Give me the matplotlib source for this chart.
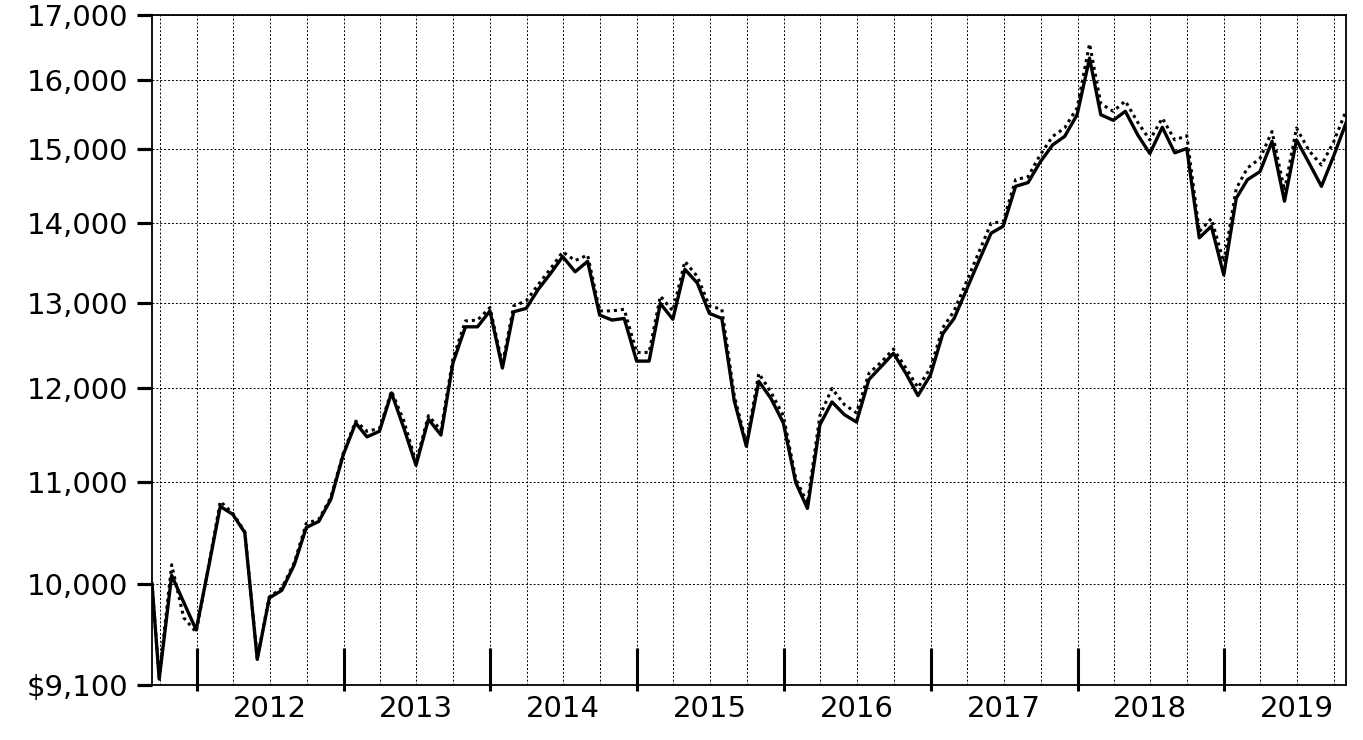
import datetime as dt
import numpy as np
import pandas as pd
import matplotlib
matplotlib.use("Agg")
import matplotlib.pyplot as plt
import matplotlib.dates as mdates
from matplotlib.ticker import FixedLocator, NullLocator, FuncFormatter

# growth of $10,000 - start value then month-end values, Sep 2011 .. Oct 2019
start_date = dt.datetime(2011, 9, 12)
end_date = dt.datetime(2019, 10, 31)

fund = [10000,
        9150, 10080, 9830, 9580,
        10160, 10750, 10670, 10490, 9320, 9870, 9940, 10180, 10540, 10600, 10820, 11280,
        11620, 11470, 11530, 11950, 11560, 11170, 11660, 11490, 12290, 12710, 12710, 12900,
        12230, 12890, 12930, 13160, 13360, 13570, 13380, 13510, 12850, 12790, 12810, 12310,
        12310, 12990, 12800, 13410, 13240, 12870, 12810, 11860, 11370, 12080, 11890, 11620,
        10990, 10730, 11600, 11850, 11710, 11630, 12100, 12250, 12400, 12170, 11920, 12150,
        12630, 12810, 13160, 13510, 13870, 13960, 14490, 14540, 14820, 15060, 15180, 15490,
        16330, 15490, 15410, 15540, 15200, 14940, 15310, 14950, 15010, 13810, 13960, 13340,
        14330, 14580, 14690, 15110, 14290, 15130, 14810, 14490, 14900, 15370]

index = [10000,
         9170, 10180, 9690, 9560,
         10170, 10800, 10680, 10500, 9330, 9880, 9960, 10200, 10580, 10620, 10840, 11300,
         11640, 11530, 11560, 11970, 11640, 11200, 11700, 11540, 12340, 12780, 12790, 12940,
         12270, 12960, 13020, 13220, 13420, 13630, 13520, 13590, 12900, 12900, 12920, 12410,
         12410, 13080, 12900, 13510, 13320, 12960, 12920, 11920, 11400, 12170, 11960, 11700,
         11030, 10780, 11700, 12000, 11820, 11730, 12170, 12300, 12450, 12230, 12010, 12230,
         12700, 12900, 13260, 13620, 14000, 14020, 14580, 14620, 14920, 15180, 15300, 15590,
         16550, 15650, 15540, 15690, 15380, 15130, 15440, 15130, 15190, 13890, 14060, 13500,
         14460, 14740, 14870, 15250, 14430, 15300, 14980, 14780, 15100, 15540]

y_ticks = [9100, 10000, 11000, 12000, 13000, 14000, 15000, 16000, 17000]
y_labels = ["$9,100", "10,000", "11,000", "12,000", "13,000", "14,000", "15,000", "16,000", "17,000"]

dates = [start_date] + list(pd.date_range("2011-09-30", "2019-10-31", freq="ME").to_pydatetime())

plt.rcParams['font.family'] = ['DejaVu Sans']

fig = plt.figure(figsize=(13.63, 7.40), dpi=100)
ax = fig.add_axes([0.1115, 0.0743, 0.876, 0.9054])

ax.plot(dates, index, color="black", linestyle=(0, (1, 1.3)), linewidth=2.2, zorder=3)
ax.plot(dates, fund, color="black", linestyle="-", linewidth=2.4, zorder=4)

ax.set_yscale("log")
ax.set_ylim(9100, 17000)
ax.yaxis.set_major_locator(FixedLocator(y_ticks))
ax.yaxis.set_minor_locator(NullLocator())
ax.set_yticklabels(y_labels)
ax.set_xlim(start_date, end_date)

# year ticks at Jan 1, quarter grid, year label at mid year
ax.xaxis.set_major_locator(mdates.YearLocator())
ax.xaxis.set_major_formatter(FuncFormatter(lambda v, p: ""))
ax.xaxis.set_minor_locator(mdates.MonthLocator(bymonth=[1, 4, 7, 10]))
def year_label(v, p):
    d = mdates.num2date(v)
    return str(d.year) if d.month == 7 else ""
ax.xaxis.set_minor_formatter(FuncFormatter(year_label))

ax.tick_params(axis="x", which="major", direction="in", length=27, width=2.2, color="black")
ax.tick_params(axis="x", which="minor", length=0, pad=7, labelsize=21)
ax.tick_params(axis="y", which="major", direction="out", length=11, width=2.3, pad=6, labelsize=21)

sec = ax.secondary_xaxis("bottom")
sec.xaxis.set_major_locator(mdates.YearLocator())
sec.xaxis.set_major_formatter(FuncFormatter(lambda v, p: ""))
sec.xaxis.set_minor_locator(NullLocator())
sec.tick_params(direction="out", length=4, width=2.2)
sec.spines["bottom"].set_visible(False)

ax.grid(True, axis="x", which="both", color="black", linestyle=(0, (2, 2)), linewidth=0.7)
ax.grid(True, axis="y", which="major", color="black", linestyle=(0, (2, 2)), linewidth=0.7)
ax.set_axisbelow(True)

for s in ax.spines.values():
    s.set_linewidth(1.3)
    s.set_color("black")

fig.savefig("out.png", dpi=100, facecolor="white")
